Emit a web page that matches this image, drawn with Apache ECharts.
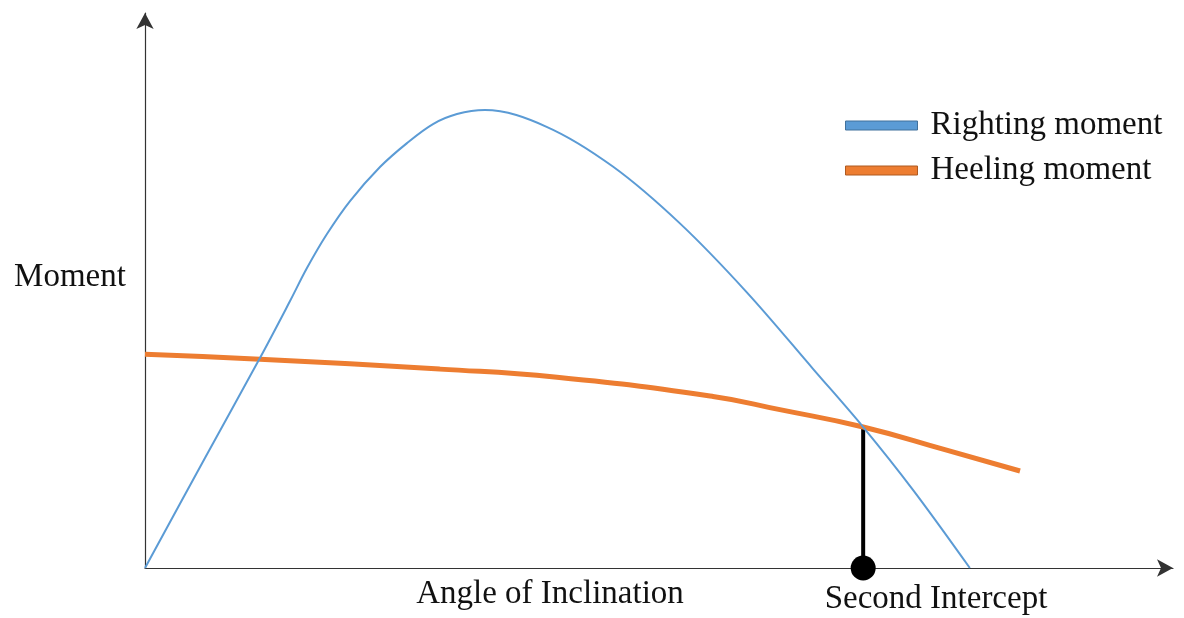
<!DOCTYPE html>
<html>
<head>
<meta charset="utf-8">
<script src="https://cdn.jsdelivr.net/npm/echarts@6/dist/echarts.min.js"></script>
<style>
  html, body { margin: 0; padding: 0; background: #fff; }
  #chart { width: 1184px; height: 618px; }
</style>
</head>
<body>
<div id="chart"></div>
<script>
// Righting moment curve (angle, moment)
const rightingX = [0, 5.88, 11.27, 14.22, 15.88, 17.84, 20.1, 23.04, 25.69, 28.24, 30.59, 33.33, 39.38, 45.91, 52.45, 58.99, 65.52, 70.42, 75.32, 80.88];
const rightingY = [0, 20.07, 38.32, 48.72, 54.74, 60.95, 66.97, 73.18, 77.55, 81.02, 82.85, 83.58, 80.53, 73.23, 62.9, 50.36, 36.31, 25.73, 14.23, 0];
// Heeling moment curve
const heelingX = [0, 11.27, 28.9, 40.4, 55.7, 62.25, 70.42, 78.6, 85.8];
const heelingY = [39.0, 38.1, 36.3, 34.8, 31.3, 28.9, 25.73, 21.5, 17.7];
// Second intercept
const interceptX = 70.42;
const interceptY = 25.73;

const seriesNames = ['Righting moment', 'Heeling moment'];
const axisTexts = { y: 'Moment', x: 'Angle of Inclination', intercept: 'Second Intercept' };

const zip = (xs, ys) => xs.map((x, i) => [x, ys[i]]);
const FONT = '"Liberation Serif", "DejaVu Serif", serif';
const FS = 33;

const chart = echarts.init(document.getElementById('chart'));
chart.setOption({
  animation: false,
  backgroundColor: '#ffffff',
  grid: { left: 145, right: 11, top: 13, bottom: 50, containLabel: false },
  xAxis: {
    type: 'value', min: 0, max: 100.8,
    axisLine: { show: true, lineStyle: { color: '#333', width: 1.2 }, symbol: ['none', 'arrow'], symbolSize: [13, 16] },
    axisTick: { show: false }, axisLabel: { show: false }, splitLine: { show: false }
  },
  yAxis: {
    type: 'value', min: 0, max: 101.3,
    axisLine: { show: true, lineStyle: { color: '#333', width: 1.2 }, symbol: ['none', 'arrow'], symbolSize: [13, 16] },
    axisTick: { show: false }, axisLabel: { show: false }, splitLine: { show: false }
  },
  legend: {
    orient: 'vertical',
    left: 840, top: 104,
    itemWidth: 72, itemHeight: 9, itemGap: 12,
    icon: 'rect',
    textStyle: { fontFamily: FONT, fontSize: FS, color: '#111', padding: [0, 0, 0, 8] },
    data: [
      { name: seriesNames[0], itemStyle: { color: '#5B9BD5', borderColor: '#41719C', borderWidth: 1 } },
      { name: seriesNames[1], itemStyle: { color: '#ED7D31', borderColor: '#AE5A21', borderWidth: 1 } }
    ]
  },
  graphic: [
    { type: 'text', x: 70, y: 277, style: { text: axisTexts.y, font: FS + 'px ' + FONT, fill: '#111', textAlign: 'center', textVerticalAlign: 'middle' } },
    { type: 'text', x: 550, y: 594, style: { text: axisTexts.x, font: FS + 'px ' + FONT, fill: '#111', textAlign: 'center', textVerticalAlign: 'middle' } },
    { type: 'text', x: 936, y: 599, style: { text: axisTexts.intercept, font: FS + 'px ' + FONT, fill: '#111', textAlign: 'center', textVerticalAlign: 'middle' } }
  ],
  series: [
    {
      name: seriesNames[0], type: 'line', smooth: 0.35, showSymbol: false,
      data: zip(rightingX, rightingY),
      lineStyle: { color: '#5B9BD5', width: 2 }, itemStyle: { color: '#5B9BD5' }, z: 3
    },
    {
      name: seriesNames[1], type: 'line', smooth: 0.5, showSymbol: false,
      data: zip(heelingX, heelingY),
      lineStyle: { color: '#ED7D31', width: 5 }, itemStyle: { color: '#ED7D31' }, z: 2
    },
    {
      name: 'intercept', type: 'line', showSymbol: false, silent: true,
      data: [[interceptX, 0], [interceptX, interceptY]],
      lineStyle: { color: '#000', width: 4 }, z: 1
    },
    {
      name: 'interceptDot', type: 'scatter', clip: false, silent: true,
      data: [[interceptX, 0]], symbolSize: 25, itemStyle: { color: '#000', opacity: 1 }, z: 4
    }
  ]
});
</script>
</body>
</html>
